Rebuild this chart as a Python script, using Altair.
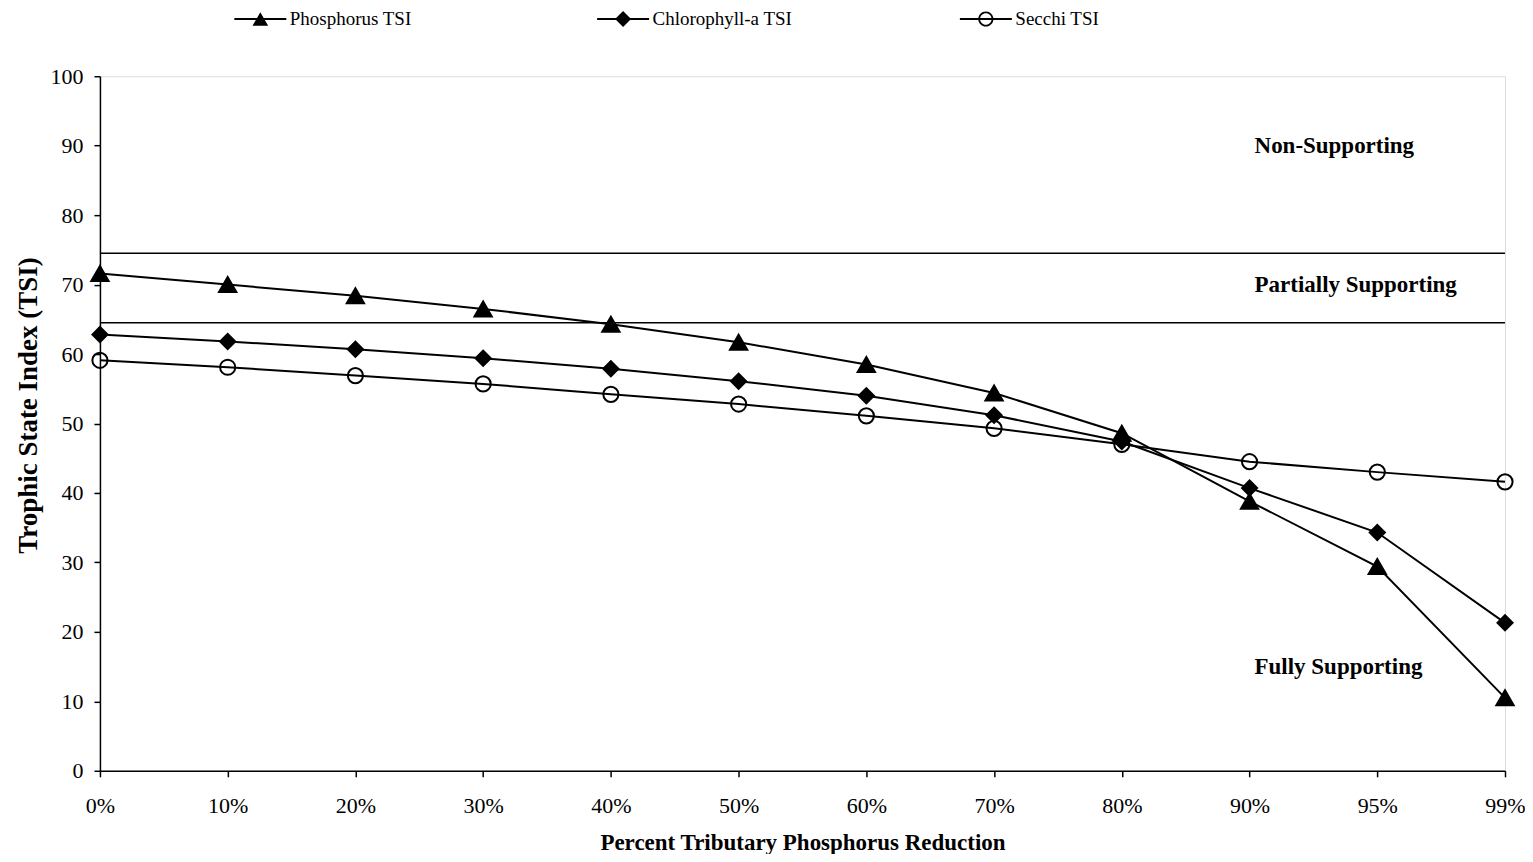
import altair as alt
import pandas as pd

categories = ["0%", "10%", "20%", "30%", "40%", "50%", "60%", "70%", "80%", "90%", "95%", "99%"]
series_names = ["Phosphorus TSI", "Chlorophyll-a TSI", "Secchi TSI"]
phosphorus = [71.6, 70.0, 68.4, 66.5, 64.3, 61.7, 58.5, 54.4, 48.6, 38.8, 29.4, 10.5]
chlorophyll = [62.8, 61.8, 60.7, 59.4, 57.9, 56.1, 54.0, 51.2, 47.4, 40.7, 34.3, 21.3]
secchi = [59.1, 58.1, 56.9, 55.7, 54.2, 52.8, 51.1, 49.3, 47.0, 44.5, 43.0, 41.6]
thresholds = [74.5, 64.5]
zone_labels = ["Non-Supporting", "Partially Supporting", "Fully Supporting"]
zone_label_y = [90, 70, 15]
zone_label_x = ["90%", "90%", "90%"]

rows = []
for name, vals in zip(series_names, [phosphorus, chlorophyll, secchi]):
    for i, (c, v) in enumerate(zip(categories, vals)):
        rows.append({"series": name, "cat": c, "value": v, "order": i})
df = pd.DataFrame(rows)
df_t = pd.DataFrame({"t": thresholds})
df_z = pd.DataFrame({"label": zone_labels, "y": zone_label_y, "cat": zone_label_x})

FONT = "Liberation Serif"

x_enc = alt.X(
    "cat:N", sort=categories,
    scale=alt.Scale(type="point", padding=0, domain=categories),
    axis=alt.Axis(
        title="Percent Tributary Phosphorus Reduction", labelAngle=0,
        labelFont=FONT, labelFontSize=22, labelColor="black", labelPadding=19,
        tickSize=6, tickColor="black", tickWidth=1.5,
        domainColor="black", domainWidth=1.5,
        titleFont=FONT, titleFontSize=23, titleFontWeight="bold", titleColor="black",
        titleBaseline="alphabetic", titleY=79,
    ),
)
y_scale = alt.Scale(domain=[0, 100], nice=False)
y_axis = alt.Axis(
    values=list(range(0, 101, 10)), grid=False,
    title="Trophic State Index (TSI)",
    labelFont=FONT, labelFontSize=22, labelColor="black", labelPadding=11,
    tickSize=6, tickColor="black", tickWidth=1.5,
    domainColor="black", domainWidth=1.5,
    titleFont=FONT, titleFontSize=27, titleFontWeight="bold", titleColor="black",
    titleBaseline="alphabetic", titleX=-63, titleY=329, titleAngle=-90,
)

rules = alt.Chart(df_t).mark_rule(color="black", strokeWidth=1.5).encode(
    y=alt.Y("t:Q", scale=y_scale, axis=y_axis)
)

lines = alt.Chart(df).mark_line(color="black", strokeWidth=2).encode(
    x=x_enc,
    y=alt.Y("value:Q", scale=y_scale, axis=y_axis),
    detail="series:N",
    order="order:Q",
)

# legend glyphs: a short line segment plus the series marker (all filled shapes)
seg = "M-3.25,-0.13H3.25V0.13H-3.25Z"
legend_shapes = [
    seg + "M0,-0.85L0.98,0.85L-0.98,0.85Z",
    seg + "M0,-1L1,0L0,1L-1,0Z",
    seg + "M-0.95,0A0.95,0.95,0,0,1,0.95,0A0.95,0.95,0,0,1,-0.95,0Z"
        + "M-0.72,0A0.72,0.72,0,0,0,0.72,0A0.72,0.72,0,0,0,-0.72,0Z",
]

legend = alt.Legend(
    title=None, orient="none", legendX=151, legendY=-67, direction="horizontal",
    symbolSize=256, labelFont=FONT, labelFontSize=19, labelColor="black",
    labelOffset=20, columnPadding=167, gridAlign="all", padding=0,
    symbolFillColor="black", symbolStrokeColor="transparent", symbolStrokeWidth=0,
    symbolOpacity=1,
)

# Layer that only carries the legend (filtered to no marks)
legend_layer = alt.Chart(df).mark_point(filled=True, opacity=1, color="black", fill="black").encode(
    x=x_enc,
    y=alt.Y("value:Q", scale=y_scale, axis=y_axis),
    shape=alt.Shape(
        "series:N",
        scale=alt.Scale(domain=series_names, range=legend_shapes),
        legend=legend,
    ),
).transform_filter("false")

points = alt.Chart(df).mark_point(filled=True, opacity=1, stroke="black", strokeWidth=2).encode(
    x=x_enc,
    y=alt.Y("value:Q", scale=y_scale, axis=y_axis),
    shape=alt.Shape(
        "series:N",
        scale=alt.Scale(domain=series_names, range=["triangle-up", "diamond", "circle"]),
        legend=None,
    ),
    fill=alt.condition(alt.datum.series == "Secchi TSI", alt.value("transparent"), alt.value("black")),
    size=alt.condition(
        alt.datum.series == "Phosphorus TSI", alt.value(300),
        alt.value(230),
    ),
)

texts = alt.Chart(df_z).mark_text(
    align="left", baseline="middle", dx=5, font=FONT, fontSize=23,
    fontWeight="bold", color="black",
).encode(
    x=x_enc,
    y=alt.Y("y:Q", scale=y_scale, axis=y_axis),
    text="label:N",
)

chart = alt.layer(rules, lines, legend_layer, points, texts).resolve_scale(
    shape="independent"
).properties(
    width=1406, height=695,
    autosize=alt.AutoSizeParams(type="none"),
    padding={"left": 92, "top": 68, "right": 20, "bottom": 83},
).configure_view(stroke="#7a7a7a", strokeWidth=2).configure(font=FONT, background="white")

chart.save("out.html", embed_options={"renderer": "svg", "actions": False})
